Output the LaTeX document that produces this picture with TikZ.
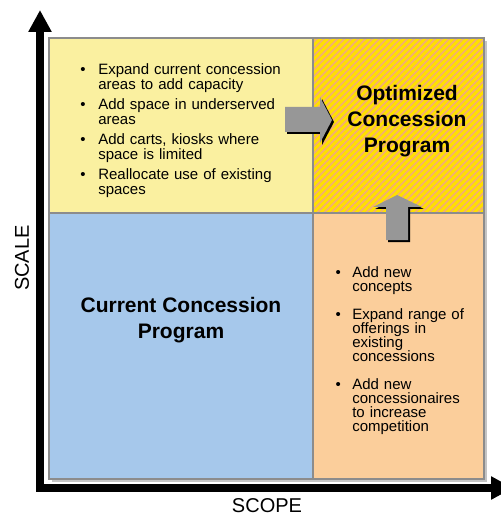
\documentclass[tikz,border=0pt]{standalone}
\usepackage{fontspec}
\setmainfont{Liberation Sans}
\usepackage{enumitem}
\usetikzlibrary{arrows.meta}
\usetikzlibrary{patterns.meta}
\definecolor{growfill}{HTML}{FAF0A0}
\definecolor{currentfill}{HTML}{A6C8EB}
\definecolor{scopefill}{HTML}{FBCE9B}
\definecolor{optfill}{HTML}{FFE000}
\definecolor{optstripe}{HTML}{F4AE72}
\definecolor{framegray}{HTML}{8C8C8C}
\definecolor{shadowgray}{HTML}{C4C4C4}
\definecolor{arrowgray}{HTML}{979797}
\tikzset{quad/.style={draw=framegray,line width=1.5pt},
	axis/.style={line width=6pt,arrows={Triangle[length=16.5pt,width=16.5pt]-Triangle[length=16.5pt,width=16.5pt]}},
	bulletlist/.style={anchor=north west,inner sep=0pt,align=left},
	headline/.style={font=\bfseries\fontsize{15.75}{19.5}\selectfont,align=center,inner sep=0pt},
	axislabel/.style={font=\fontsize{15}{18}\selectfont,inner sep=0pt}}

\begin{document}
\begin{tikzpicture}[x=0.75pt,y=-0.75pt]
		\useasboundingbox (0,0) rectangle (500,516);
		% quadrants
		\fill[shadowgray] (52,41) rectangle (487,482);
		\draw[quad,fill=growfill] (49,38) rectangle (313,213);
		\draw[quad,fill=currentfill] (49,213) rectangle (313,479);
		\draw[quad,fill=scopefill] (313,213) rectangle (484,479);
		\fill[optfill] (313,38) rectangle (484,213);
		\fill[pattern={Lines[angle=45,distance=3.7pt,line width=1.3pt]},pattern color=optstripe] (313,38) rectangle (484,213);
		\draw[quad] (313,38) rectangle (484,213);
		% axes
		\coordinate (origin) at (40,488);
		\coordinate (scaletip) at (40,10);
		\coordinate (scopetip) at (513,488);
		\draw[axis] (scaletip) -- (origin) -- (scopetip);
		\node[axislabel,rotate=90] (scale) at (22,258) {SCALE};
		\node[axislabel] (scope) at (267,506) {SCOPE};
		% block arrows
		\begin{scope}[shift={(2,2)}]
			\fill (285,107) -- (320,107) -- (320,97) -- (332,120) -- (320,143) -- (320,132) -- (285,132) -- cycle;
			\fill (386,240) -- (386,207) -- (373,207) -- (397,195) -- (422,207) -- (408,207) -- (408,240) -- cycle;
		\end{scope}
		\fill[arrowgray] (285,107) -- (320,107) -- (320,97) -- (332,120) -- (320,143) -- (320,132) -- (285,132) -- cycle;
		\fill[arrowgray] (386,240) -- (386,207) -- (373,207) -- (397,195) -- (422,207) -- (408,207) -- (408,240) -- cycle;
		% texts
		\node[headline] (optimized) at (407,121) {Optimized\\Concession\\Program};
		\node[headline] (current) at (181,320) {Current Concession\\Program};
		\node[bulletlist,text width=165pt,font=\fontsize{11.25}{11.25}\selectfont] (growlist) at (80,59) {%
			\begin{itemize}[leftmargin=13.5pt,labelsep=9.5pt,topsep=0pt,partopsep=0pt,parsep=0pt,itemsep=3.75pt]
				\item Expand current concession\\areas to add capacity
				\item Add space in underserved\\areas
				\item Add carts, kiosks where\\space is limited
				\item Reallocate use of existing\\spaces
			\end{itemize}};
		\node[bulletlist,text width=110pt,font=\fontsize{11.25}{10.5}\selectfont] (scopelist) at (335,263) {%
			\begin{itemize}[leftmargin=12.75pt,labelsep=8.5pt,topsep=0pt,partopsep=0pt,parsep=0pt,itemsep=10.5pt]
				\item Add new\\concepts
				\item Expand range of\\offerings in\\existing\\concessions
				\item Add new\\concessionaires\\to increase\\competition
			\end{itemize}};
	\end{tikzpicture}
\end{document}
